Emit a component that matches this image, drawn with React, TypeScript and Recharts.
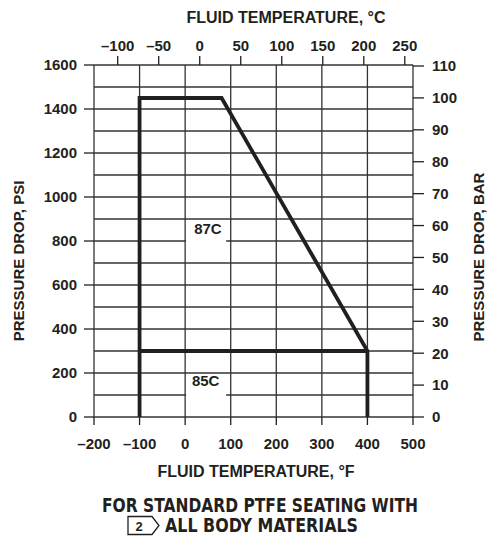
import { CartesianGrid, ComposedChart, Line, ReferenceArea, ReferenceDot, XAxis, YAxis } from 'recharts'

// temperature in °F (bottom) and °C (top)
const tempF = [-200, -100, 0, 100, 200, 300, 400, 500]
const tempC = [-100, -50, 0, 50, 100, 150, 200, 250]
const psiTicks = [0, 200, 400, 600, 800, 1000, 1200, 1400, 1600]
const psiGrid = [0, 100, 200, 300, 400, 500, 600, 700, 800, 900, 1000, 1100, 1200, 1300, 1400, 1500, 1600]
const barTicks = [0, 10, 20, 30, 40, 50, 60, 70, 80, 90, 100, 110]

// 87C limits
const outline87C = [
    { f: -100, psi: 0 },
    { f: -100, psi: 1450 },
    { f: 80, psi: 1450 },
    { f: 400, psi: 300 },
    { f: 400, psi: 0 },
]
// 85C limit
const outline85C = [
    { f: -100, psi: 300 },
    { f: 400, psi: 300 },
]

const INK = '#231f20'
const FONT = '"Liberation Sans", Arial, Helvetica, sans-serif'
const NARROW = '"Liberation Sans Narrow", "DejaVu Sans Condensed", "Liberation Sans", sans-serif'

const fToC = (f: number) => (f - 32) / 1.8
const psiToBar = (p: number) => p / 14.5038

const dash = (v: number) => String(v).replace('-', '\u2013')

// invisible series so the °C axis has something bound to it
const celsiusAxisData = tempF.map((f) => ({ c: fToC(f), psi: 0 }))

const tickStyle = { fill: INK, fontSize: 15, fontWeight: 'bold', fontFamily: FONT }

export default function App() {
    return (
        <div style={{ position: 'absolute', left: 0, top: 0, width: 488, height: 536, background: '#fff' }}>
            <ComposedChart width={488} height={536} margin={{ top: 35, right: 35, bottom: 89, left: 34 }}>
                <XAxis
                    xAxisId="f"
                    dataKey="f"
                    type="number"
                    domain={[-200, 500]}
                    ticks={tempF}
                    allowDataOverflow
                    height={30}
                    axisLine={false}
                    tickLine={{ stroke: INK, strokeWidth: 1.3 }}
                    tickSize={8}
                    tickMargin={13}
                    tick={tickStyle}
                    tickFormatter={dash}
                    interval={0}
                />
                <XAxis
                    xAxisId="c"
                    dataKey="c"
                    orientation="top"
                    type="number"
                    domain={[fToC(-200), fToC(500)]}
                    ticks={tempC}
                    allowDataOverflow
                    height={30}
                    axisLine={false}
                    tickLine={{ stroke: INK, strokeWidth: 1.3 }}
                    tickSize={9}
                    tickMargin={5}
                    tick={tickStyle}
                    tickFormatter={dash}
                    interval={0}
                />
                <YAxis
                    yAxisId="psi"
                    type="number"
                    domain={[0, 1600]}
                    ticks={psiTicks}
                    allowDataOverflow
                    width={60}
                    axisLine={false}
                    tickLine={{ stroke: INK, strokeWidth: 1.3 }}
                    tickSize={10}
                    tickMargin={7}
                    tick={tickStyle}
                    interval={0}
                />
                <YAxis
                    yAxisId="bar"
                    orientation="right"
                    type="number"
                    domain={[0, psiToBar(1600)]}
                    ticks={barTicks}
                    allowDataOverflow
                    width={40}
                    axisLine={false}
                    tickLine={{ stroke: INK, strokeWidth: 1.3 }}
                    tickSize={11}
                    tickMargin={8}
                    tick={tickStyle}
                    interval={0}
                />
                <CartesianGrid
                    xAxisId="f"
                    yAxisId="psi"
                    verticalValues={tempF}
                    horizontalValues={psiGrid}
                    stroke="#333"
                    strokeWidth={1.3}
                />
                <ReferenceArea xAxisId="f" yAxisId="psi" x1={2} x2={90} y1={785} y2={893} fill="#fff" fillOpacity={1} stroke="none" />
                <ReferenceArea xAxisId="f" yAxisId="psi" x1={2} x2={90} y1={88} y2={195} fill="#fff" fillOpacity={1} stroke="none" />
                <Line
                    xAxisId="c"
                    yAxisId="psi"
                    data={celsiusAxisData}
                    dataKey="psi"
                    stroke="none"
                    dot={false}
                    activeDot={false}
                    legendType="none"
                    isAnimationActive={false}
                />
                <Line
                    xAxisId="f"
                    yAxisId="psi"
                    data={outline87C}
                    dataKey="psi"
                    type="linear"
                    stroke={INK}
                    strokeWidth={3.8}
                    strokeLinejoin="miter"
                    dot={false}
                    activeDot={false}
                    isAnimationActive={false}
                />
                <Line
                    xAxisId="f"
                    yAxisId="psi"
                    data={outline85C}
                    dataKey="psi"
                    type="linear"
                    stroke={INK}
                    strokeWidth={3.8}
                    dot={false}
                    activeDot={false}
                    isAnimationActive={false}
                />
                <ReferenceDot
                    xAxisId="f"
                    yAxisId="psi"
                    x={50}
                    y={857}
                    r={0}
                    stroke="none"
                    label={{ value: '87C', position: 'center', fill: INK, fontSize: 15, fontWeight: 'bold', fontFamily: FONT }}
                />
                <ReferenceDot
                    xAxisId="f"
                    yAxisId="psi"
                    x={45}
                    y={166}
                    r={0}
                    stroke="none"
                    label={{ value: '85C', position: 'center', fill: INK, fontSize: 15, fontWeight: 'bold', fontFamily: FONT }}
                />
            </ComposedChart>
            <svg
                width={488}
                height={536}
                style={{ position: 'absolute', left: 0, top: 0, pointerEvents: 'none' }}
            >
                <g fill={INK} fontFamily={FONT} fontWeight="bold">
                    <text x={286} y={23} fontSize={16} textAnchor="middle">FLUID TEMPERATURE, °C</text>
                    <text x={256} y={477} fontSize={16} textAnchor="middle">FLUID TEMPERATURE, °F</text>
                    <text transform="translate(24 261) rotate(-90)" fontSize={15} textAnchor="middle">PRESSURE DROP, PSI</text>
                    <text transform="translate(484 257) rotate(-90)" fontSize={15} textAnchor="middle">PRESSURE DROP, BAR</text>
                </g>
                <g fill={INK} fontFamily={NARROW} fontWeight="bold">
                    <text x={102} y={512} fontSize={19} textLength={316} lengthAdjust="spacingAndGlyphs">FOR STANDARD PTFE SEATING WITH</text>
                    <text x={165} y={532} fontSize={19} textLength={193} lengthAdjust="spacingAndGlyphs">ALL BODY MATERIALS</text>
                </g>
                <path d="M128 516.5 H152 L159 525.5 L152 534.5 H128 Z" fill="none" stroke={INK} strokeWidth={1.3} />
                <text x={139} y={531} fontSize={13} fontWeight="bold" fontFamily={FONT} fill={INK} textAnchor="middle">2</text>
            </svg>
        </div>
    )
}
